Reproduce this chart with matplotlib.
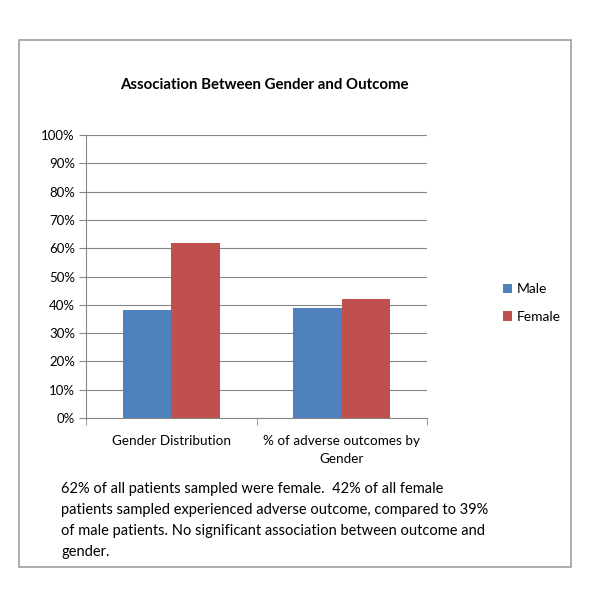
import numpy as np
import matplotlib.pyplot as plt
from matplotlib.patches import Rectangle

# Data
categories = ['Gender Distribution', '% of adverse outcomes by\nGender']
male = [38, 39]
female = [62, 42]
series_names = ['Male', 'Female']
yticks = list(range(0, 101, 10))

blue = '#4F81BD'
red = '#C0504D'
grid_col = '#868686'

plt.rcParams['font.family'] = ['Lato', 'DejaVu Sans']

fig = plt.figure(figsize=(6, 6.05), dpi=100)

# outer chart frame
fig.patches.append(Rectangle((19 / 600, 1 - 567 / 605), 552 / 600, 527 / 605,
                             transform=fig.transFigure, fill=False,
                             edgecolor='#A0A0A0', linewidth=1.2))

ax = fig.add_axes([86 / 600, 1 - 418 / 605, 341 / 600, 283 / 605])

x = np.arange(len(categories))
w = 0.285
ax.bar(x - w / 2, male, w, color=blue, label=series_names[0], zorder=3)
ax.bar(x + w / 2, female, w, color=red, label=series_names[1], zorder=3)

ax.set_xlim(-0.5, len(categories) - 0.5)
ax.set_ylim(0, 100)
ax.set_yticks(yticks)
ax.set_yticklabels([f'{v}%' for v in yticks], fontsize=9.5)
ax.yaxis.grid(True, color=grid_col, linewidth=0.8, zorder=0)

ax.set_xticks(x)
ax.set_xticklabels(categories, fontsize=9.7, linespacing=1.6)
ax.set_xticks(np.arange(-0.5, len(categories)), minor=True)
ax.tick_params(axis='x', which='major', length=0, pad=12)
ax.tick_params(axis='x', which='minor', length=5, color=grid_col)
ax.tick_params(axis='y', length=5, color=grid_col, pad=3)

for s in ['top', 'right']:
    ax.spines[s].set_visible(False)
for s in ['left', 'bottom']:
    ax.spines[s].set_color(grid_col)
    ax.spines[s].set_linewidth(0.8)

fig.text(264 / 600, 1 - 85 / 605, 'Association Between Gender and Outcome',
         ha='center', va='center', fontsize=10.8, fontweight='bold')

ax.legend(loc='center left', bbox_to_anchor=(490 / 600, 1 - 303 / 605),
          bbox_transform=fig.transFigure, frameon=False, fontsize=10,
          handlelength=0.7, handleheight=0.7, handletextpad=0.3,
          labelspacing=1.1)

caption = ('62% of all patients sampled were female.  42% of all female\n'
           'patients sampled experienced adverse outcome, compared to 39%\n'
           'of male patients. No significant association between outcome and\n'
           'gender.')
fig.text(61 / 600, 1 - 482 / 605, caption, ha='left', va='top',
         fontsize=10.5, linespacing=1.63)

fig.savefig('out.png', dpi=100, facecolor='white')
